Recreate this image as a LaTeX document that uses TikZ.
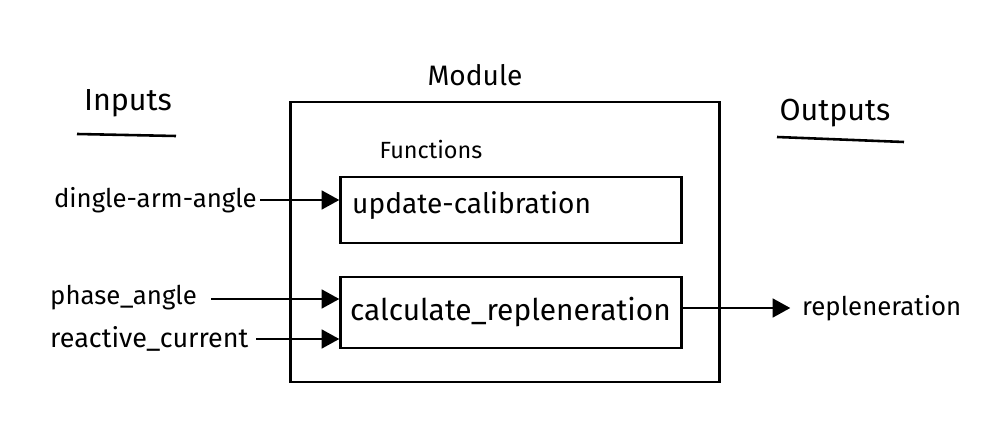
\documentclass[tikz,border=0pt]{standalone}
\usepackage{fontspec}
\setmainfont{Fira Sans}
\usetikzlibrary{arrows.meta}
\begin{document}
\begin{tikzpicture}[x=0.03cm,y=-0.03cm,
  box/.style={draw,line width=2.3pt,inner sep=0pt},
  lbl/.style={inner sep=0pt,font=\fontsize{22}{26}\selectfont},
  head/.style={inner sep=0pt,font=\fontsize{26}{30}\selectfont},
  conn/.style={line width=1.9pt,-{Triangle[length=15pt,width=16pt]}},
  uline/.style={line width=2.2pt}]
\useasboundingbox (0,0) rectangle (1000,432);
% module
\node[box,minimum width={430*0.8504pt},minimum height={281*0.8504pt}] (module) at (505,242) {};
\node[head,font=\fontsize{24}{28}\selectfont] (modt) at (475,75) {Module};
\node[lbl,font=\fontsize{20}{24}\selectfont] (fun) at (431,150) {Functions};
\node[box,minimum width={342*0.8504pt},minimum height={66*0.8504pt}] (upd) at (511,210) {};
\node[lbl,anchor=west,font=\fontsize{24}{28}\selectfont] (updt) at (352,206) {update-calibration};
\node[box,minimum width={342*0.8504pt},minimum height={71*0.8504pt}] (calc) at (511,312.5) {};
\node[lbl,anchor=west,font=\fontsize{25.5}{30}\selectfont] (calct) at (350,312) {calculate\_repleneration};
% headings
\node[head] (inp) at (128,103) {Inputs};
\coordinate (inpa) at (77,134);
\coordinate (inpb) at (176,136);
\draw[uline] (inpa) -- (inpb);
\node[head] (outp) at (835,113) {Outputs};
\coordinate (outa) at (777,137);
\coordinate (outb) at (904,142);
\draw[uline] (outa) -- (outb);
% inputs
\node[lbl,anchor=east] (din) at (257,200) {dingle-arm-angle};
\node[lbl,anchor=west] (ph) at (50,298) {phase\_angle};
\node[lbl,anchor=west,font=\fontsize{23}{27}\selectfont] (rc) at (50,339) {reactive\_current};
\node[lbl,anchor=west] (rep) at (802,308) {repleneration};
\draw[conn] (din.east) ++(3,0) coordinate (dins) -- (dins -| upd.west);
\coordinate (phs) at (211,299);
\draw[conn] (phs) -- (phs -| calc.west);
\coordinate (rcs) at (256,339);
\draw[conn] (rcs) -- (rcs -| calc.west);
\draw[conn] (calc.east |- rep.west) -- ([xshift=-10pt]rep.west);
\end{tikzpicture}
\end{document}
